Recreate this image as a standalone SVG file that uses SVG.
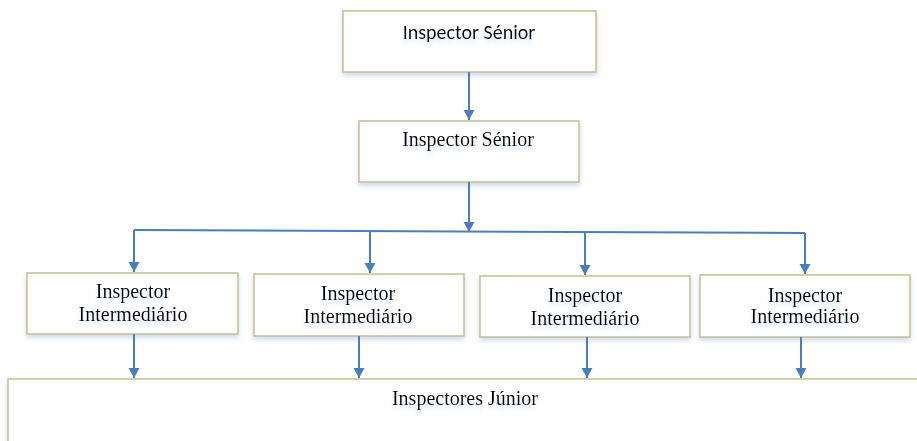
<svg xmlns="http://www.w3.org/2000/svg" width="917" height="441" viewBox="0 0 917 441">
<style>
.box{fill:#fff;stroke:#C8BD92;stroke-width:1.5;filter:url(#sh)}
.t{font-family:"Liberation Serif","Times New Roman",serif;font-size:20px;fill:#000;text-anchor:middle;filter:url(#ts)}
.s{font-family:Carlito,"Liberation Sans",Arial,sans-serif;font-size:20px;fill:#000;text-anchor:middle;filter:url(#ts)}
.c{fill:none;stroke:#4A7EBB;stroke-width:2}
</style>
<defs>
<filter id="sh" x="-5%" y="-20%" width="110%" height="150%">
<feGaussianBlur in="SourceAlpha" stdDeviation="2.5"/>
<feOffset dx="0" dy="3" result="b"/>
<feFlood flood-color="#9DB5DA" flood-opacity="0.5"/>
<feComposite in2="b" operator="in" result="s"/>
<feMerge><feMergeNode in="s"/><feMergeNode in="SourceGraphic"/></feMerge>
</filter>
<filter id="ts" x="-10%" y="-30%" width="120%" height="180%">
<feGaussianBlur in="SourceAlpha" stdDeviation="2"/>
<feOffset dx="0" dy="4" result="b"/>
<feFlood flood-color="#A9BFE0" flood-opacity="0.45"/>
<feComposite in2="b" operator="in" result="s"/>
<feMerge><feMergeNode in="s"/><feMergeNode in="SourceGraphic"/></feMerge>
</filter>
<marker id="ah" markerWidth="12" markerHeight="12" refX="10" refY="6" orient="auto" markerUnits="userSpaceOnUse">
<path d="M0,0.5 L10,6 L0,11.5 z" fill="#4A7EBB"/>
</marker>
</defs>
<g id="n-top"><rect class="box" x="343" y="11" width="253" height="61"/><text class="s" x="469" y="39">Inspector Sénior</text></g>
<g id="n-senior2"><rect class="box" x="359" y="121" width="220" height="61"/><text class="t" x="468" y="146">Inspector Sénior</text></g>
<g id="n-int1"><rect class="box" x="27" y="273" width="211" height="61"/><text class="t" x="133" y="298">Inspector</text><text class="t" x="133" y="321">Intermediário</text></g>
<g id="n-int2"><rect class="box" x="254" y="274" width="210" height="62"/><text class="t" x="358" y="300">Inspector</text><text class="t" x="358" y="323">Intermediário</text></g>
<g id="n-int3"><rect class="box" x="480" y="276" width="210" height="61"/><text class="t" x="585" y="302">Inspector</text><text class="t" x="585" y="325">Intermediário</text></g>
<g id="n-int4"><rect class="box" x="700" y="275" width="210" height="62"/><text class="t" x="805" y="302">Inspector</text><text class="t" x="805" y="323">Intermediário</text></g>
<g id="n-junior"><rect class="box" x="8" y="379" width="912" height="70"/><text class="t" x="465" y="405">Inspectores Júnior</text></g>
<g id="connectors">
<path class="c" d="M469,72 V120" marker-end="url(#ah)"/>
<path class="c" d="M469,182 V232" marker-end="url(#ah)"/>
<path class="c" d="M134,230 L805,233"/>
<path class="c" d="M134,230 V272" marker-end="url(#ah)"/>
<path class="c" d="M370,231 V273" marker-end="url(#ah)"/>
<path class="c" d="M585,232 V275" marker-end="url(#ah)"/>
<path class="c" d="M805,233 V274" marker-end="url(#ah)"/>
<path class="c" d="M134,334 V378" marker-end="url(#ah)"/>
<path class="c" d="M359,336 V378" marker-end="url(#ah)"/>
<path class="c" d="M587,337 V378" marker-end="url(#ah)"/>
<path class="c" d="M801,337 V378" marker-end="url(#ah)"/>
</g>
</svg>
